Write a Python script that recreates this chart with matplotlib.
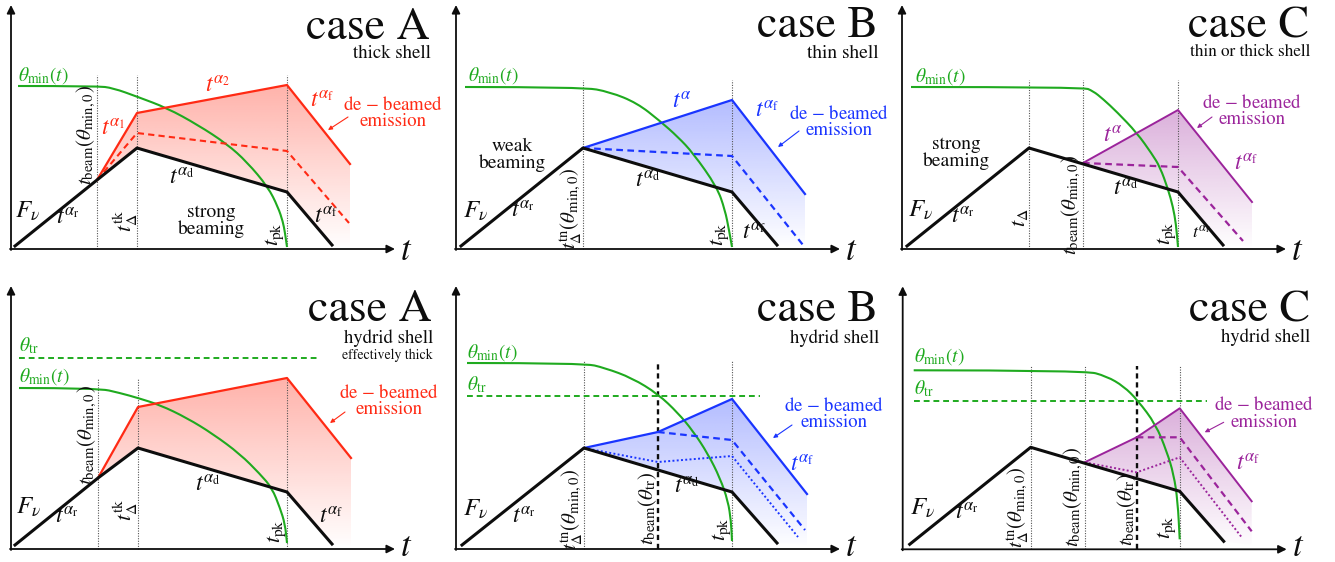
import numpy as np
import matplotlib
matplotlib.use("Agg")
import matplotlib.pyplot as plt
from matplotlib.patches import Polygon, PathPatch
from matplotlib.path import Path
from matplotlib.colors import to_rgb

plt.rcParams["mathtext.fontset"] = "stix"
plt.rcParams["font.family"] = ["STIXGeneral", "DejaVu Serif"]

RED = "#ff2a14"
BLUE = "#1a35ff"
PURPLE = "#9b249b"
GREEN = "#1faa1f"
BLACK = "#0d0d0d"
GREY = "#555555"

# ---------------- data (schematic units) ----------------
# top row, case A (thick shell)
a1_black_t = [4, 86, 126, 276, 321]
a1_black_F = [3, 69, 101, 57, 4]
a1_solid_t = [86, 126, 276, 339]
a1_solid_F = [69, 136, 164, 85]
a1_dash_t = [86, 126, 276, 338]
a1_dash_F = [69, 116, 98, 26]
a1_theta_t = [7, 86, 102, 127, 156, 187, 216, 236, 257, 267, 272, 274, 276]
a1_theta_F = [163, 163, 161, 152, 141, 124, 105, 87, 62, 42, 27, 16, 2]
a1_vlines = [86, 126, 276]

# top row, case B (thin shell)
b1_black_t = [5, 127, 276, 321]
b1_black_F = [3, 101, 57, 4]
b1_solid_t = [127, 276, 349]
b1_solid_F = [101, 149, 55]
b1_dash_t = [127, 276, 347]
b1_dash_F = [101, 93, 4]
b1_theta_t = [9, 127, 154, 181, 204, 222, 237, 261, 269, 273, 276]
b1_theta_F = [162, 162, 157, 146, 128, 112, 96, 62, 39, 19, 2]
b1_vlines = [127, 276]

# top row, case C (thin or thick shell)
c1_black_t = [5, 127, 276, 321]
c1_black_F = [3, 101, 57, 4]
c1_solid_t = [181, 276, 350]
c1_solid_F = [86, 139, 47]
c1_dash_t = [181, 276, 341]
c1_dash_F = [86, 82, 8]
c1_theta_t = [9, 181, 191, 201, 215, 235, 250, 258, 266, 271, 274, 276]
c1_theta_F = [162, 162, 158, 150, 137, 116, 95, 82, 60, 42, 25, 2]
c1_vlines = [127, 181, 276]

# bottom row, case A (hybrid shell, effectively thick)
a2_black_t = [4, 87, 127, 276, 321]
a2_black_F = [4, 71, 101, 57, 5]
a2_solid_t = [87, 127, 276, 340]
a2_solid_F = [71, 142, 171, 91]
a2_theta_t = [8, 87, 109, 127, 149, 176, 202, 229, 249, 261, 269, 274, 276]
a2_theta_F = [161, 161, 156, 151, 144, 131, 115, 95, 75, 61, 41, 25, 6]
a2_tr_t = [8, 309]
a2_tr_F = [191, 191]
a2_vlines = [87, 127, 276]

# bottom row, case B (hybrid shell)
b2_black_t = [6, 128, 276, 321]
b2_black_F = [4, 101, 57, 6]
b2_solid_t = [128, 202, 276, 351]
b2_solid_F = [101, 117, 150, 55]
b2_dash_t = [202, 276, 349]
b2_dash_F = [117, 109, 19]
b2_dot_t = [128, 202, 276, 342]
b2_dot_F = [101, 87, 93, 12]
b2_theta_t = [11, 128, 149, 176, 202, 222, 237, 252, 264, 272, 275, 276]
b2_theta_F = [186, 186, 181, 171, 155, 136, 118, 95, 71, 48, 28, 8]
b2_tr_t = [11, 304]
b2_tr_F = [153, 153]
b2_vlines = [128, 276]
b2_vdash = [202]

# bottom row, case C (hybrid shell)
c2_black_t = [7, 128, 277, 321]
c2_black_F = [5, 102, 58, 8]
c2_solid_t = [182, 234, 277, 349]
c2_solid_F = [87, 112, 141, 48]
c2_dash_t = [234, 277, 349]
c2_dash_F = [112, 112, 18]
c2_dot_t = [182, 234, 277, 339]
c2_dot_F = [87, 77, 92, 12]
c2_theta_t = [11, 182, 204, 221, 235, 253, 264, 271, 275, 277]
c2_theta_F = [179, 179, 173, 163, 149, 125, 98, 75, 48, 10]
c2_tr_t = [11, 304]
c2_tr_F = [148, 148]
c2_vlines = [128, 182, 277]
c2_vdash = [234]

# ---------------- figure ----------------
W, H = 1335, 562
fig = plt.figure(figsize=(W / 100, H / 100), dpi=100)
PW, PH = 445, 281

MATH_FS = 17


def make_ax(r, c, ox, oy):
    ax = fig.add_axes([c * PW / W, 1 - (r + 1) * PH / H, PW / W, PH / H])
    ax.set_axis_off()
    ax._lims = ((-ox, PW - ox), (-(PH - oy), oy))
    return ax


def finish(ax):
    ax.set_xlim(*ax._lims[0])
    ax.set_ylim(*ax._lims[1])


def axes_arrows(ax, ytop, t_y, xend=384):
    kw = dict(arrowstyle="-|>", color=BLACK, lw=1.3, mutation_scale=12,
              shrinkA=0, shrinkB=0)
    ax.annotate("", xy=(0, ytop), xytext=(0, -1), arrowprops=kw, zorder=6)
    ax.annotate("", xy=(xend, 0), xytext=(-1, 0), arrowprops=kw, zorder=6)
    ax.text(389, t_y, r"$t$", fontsize=25, ha="left", va="center", color=BLACK)


def smooth_curve(ax, ts, Fs, color, lw=1.5):
    """Quadratic-Bezier path through the read points (midpoint scheme)."""
    P = list(zip(ts, Fs))
    verts = [P[0]]
    codes = [Path.MOVETO]
    for i in range(1, len(P) - 1):
        mid = ((P[i][0] + P[i + 1][0]) / 2, (P[i][1] + P[i + 1][1]) / 2)
        verts += [P[i], mid]
        codes += [Path.CURVE3, Path.CURVE3]
    verts.append(P[-1])
    codes.append(Path.LINETO)
    ax.add_patch(PathPatch(Path(verts, codes), facecolor="none",
                           edgecolor=color, lw=lw, zorder=3))


def vlines(ax, xs, top):
    for x in xs:
        ax.plot([x, x], [0, top], color=GREY, lw=0.8, ls=(0, (1, 1.3)), zorder=2)


def vdash(ax, xs, top):
    for x in xs:
        ax.plot([x, x], [0, top], color=BLACK, lw=1.7, ls=(0, (2.2, 1.6)), zorder=2)


def gradient_fill(ax, solid_t, solid_F, black_t, black_F, color, amax, base=2):
    pts = list(zip(solid_t, solid_F))
    pts.append((solid_t[-1], base))
    bl = [(t, F) for t, F in zip(black_t, black_F) if t > solid_t[0]]
    pts += bl[::-1]
    poly = Polygon(pts, closed=True, facecolor="none", edgecolor="none")
    ax.add_patch(poly)
    ftop = max(solid_F)
    n = 256
    img = np.zeros((n, 1, 4))
    img[..., :3] = to_rgb(color)
    img[:, 0, 3] = np.linspace(0, amax, n)
    xs = [p[0] for p in pts]
    im = ax.imshow(img, extent=[min(xs), max(xs), 0, ftop], origin="lower",
                   aspect="auto", interpolation="bilinear", zorder=1)
    im.set_clip_path(poly)


def lbl(ax, x, y, s, fs=MATH_FS, color=BLACK, rot=0, ha="center", va="center"):
    ax.text(x, y, s, fontsize=fs, color=color, rotation=rot, ha=ha, va=va)


def title(ax, x, y, s, sub, sub_fs, y2, sub2=None, y3=None):
    ax.text(x, y, s, fontsize=33, ha="right", va="baseline", color=BLACK)
    ax.text(x + 1, y2, sub, fontsize=sub_fs, ha="right", va="baseline", color=BLACK)
    if sub2:
        ax.text(x + 1, y3, sub2, fontsize=10, ha="right", va="baseline", color=BLACK)


def debeam(ax, x, y, color, tail, head):
    ax.text(x, y, "de $-$ beamed\nemission", fontsize=13.5, color=color,
            ha="center", va="center", linespacing=0.95, multialignment="center")
    ax.annotate("", xy=head, xytext=tail,
                arrowprops=dict(arrowstyle="-|>", color=color, lw=0.8,
                                mutation_scale=6, shrinkA=0, shrinkB=0))


def words(ax, x, y, s):
    ax.text(x, y, s, fontsize=14, ha="center", va="center",
            linespacing=0.95, color=BLACK)


T_BEAM0 = r"$t_{\rm beam}(\theta_{{\rm min},0})$"
T_BEAMTR = r"$t_{\rm beam}(\theta_{\rm tr})$"
T_TN = r"$t_\Delta^{\rm tn}(\theta_{{\rm min},0})$"
T_TK = r"$t_\Delta^{\rm tk}$"
T_PK = r"$t_{\rm pk}$"
T_AR = r"$t^{\alpha_{\rm r}}$"
T_AD = r"$t^{\alpha_{\rm d}}$"
T_AF = r"$t^{\alpha_{\rm f}}$"
F_NU = r"$F_\nu$"
TH_MIN = r"$\theta_{\rm min}(t)$"
TH_TR = r"$\theta_{\rm tr}$"
ROT_FS = 15
TH_FS = 14
FNU_FS = 18

# ======== panel top A ========
ax = make_ax(0, 0, 11, 249)
gradient_fill(ax, a1_solid_t, a1_solid_F, a1_black_t, a1_black_F, RED, 0.36)
vlines(ax, a1_vlines, 174)
smooth_curve(ax, a1_theta_t, a1_theta_F, GREEN)
ax.plot(a1_dash_t, a1_dash_F, color=RED, lw=1.5, ls=(0, (3, 2)), zorder=4)
ax.plot(a1_solid_t, a1_solid_F, color=RED, lw=1.6, zorder=4)
ax.plot(a1_black_t, a1_black_F, color=BLACK, lw=2.2, zorder=5)
axes_arrows(ax, 244, -3)
lbl(ax, 7, 173, TH_MIN, TH_FS, GREEN, ha="left")
lbl(ax, 207, 162, r"$t^{\alpha_2}$", MATH_FS, RED)
lbl(ax, 311, 147, T_AF, MATH_FS, RED)
lbl(ax, 102, 119, r"$t^{\alpha_1}$", MATH_FS, RED)
debeam(ax, 382, 136, RED, (337, 132), (317, 119))
lbl(ax, 75, 114, T_BEAM0, ROT_FS, rot=90)
lbl(ax, 115, 28, T_TK, ROT_FS + 1, rot=90)
words(ax, 200, 28, "strong\nbeaming")
lbl(ax, 171, 70, T_AD)
lbl(ax, 17, 37, F_NU, FNU_FS)
lbl(ax, 57, 30, T_AR)
lbl(ax, 264, 15, T_PK, ROT_FS + 1, rot=90)
lbl(ax, 315, 31, T_AF)
title(ax, 419, 210, "case A", "thick shell", 13.5, 191)
finish(ax)

# ======== panel top B ========
ax = make_ax(0, 1, 11, 249)
gradient_fill(ax, b1_solid_t, b1_solid_F, b1_black_t, b1_black_F, BLUE, 0.33)
vlines(ax, b1_vlines, 169)
smooth_curve(ax, b1_theta_t, b1_theta_F, GREEN)
ax.plot(b1_dash_t, b1_dash_F, color=BLUE, lw=1.6, ls=(0, (3, 2)), zorder=4)
ax.plot(b1_solid_t, b1_solid_F, color=BLUE, lw=1.6, zorder=4)
ax.plot(b1_black_t, b1_black_F, color=BLACK, lw=2.2, zorder=5)
axes_arrows(ax, 244, -3)
lbl(ax, 12, 173, TH_MIN, TH_FS, GREEN, ha="left")
lbl(ax, 226, 146, r"$t^{\alpha}$", MATH_FS, BLUE)
lbl(ax, 311, 137, T_AF, MATH_FS, BLUE)
debeam(ax, 383, 127, BLUE, (343, 118), (322, 102))
words(ax, 56, 94, "weak\nbeaming")
lbl(ax, 192, 67, T_AD)
lbl(ax, 20, 37, F_NU, FNU_FS)
lbl(ax, 67, 37, T_AR)
lbl(ax, 115, 41, T_TN, ROT_FS, rot=90)
lbl(ax, 264, 15, T_PK, ROT_FS + 1, rot=90)
lbl(ax, 298, 15, T_AF)
title(ax, 422, 212, "case B", "thin shell", 14, 191)
finish(ax)

# ======== panel top C ========
ax = make_ax(0, 2, 12, 249)
gradient_fill(ax, c1_solid_t, c1_solid_F, c1_black_t, c1_black_F, PURPLE, 0.36)
vlines(ax, c1_vlines, 169)
smooth_curve(ax, c1_theta_t, c1_theta_F, GREEN)
ax.plot(c1_dash_t, c1_dash_F, color=PURPLE, lw=1.6, ls=(0, (3, 2)), zorder=4)
ax.plot(c1_solid_t, c1_solid_F, color=PURPLE, lw=1.4, zorder=4)
ax.plot(c1_black_t, c1_black_F, color=BLACK, lw=2.2, zorder=5)
axes_arrows(ax, 244, -3)
lbl(ax, 13, 172, TH_MIN, TH_FS, GREEN, ha="left")
lbl(ax, 211, 112, r"$t^{\alpha}$", MATH_FS, PURPLE)
debeam(ax, 350, 138, PURPLE, (310, 132), (295, 121))
lbl(ax, 344, 84, T_AF, MATH_FS, PURPLE)
words(ax, 54, 96, "strong\nbeaming")
lbl(ax, 224, 59, T_AD)
lbl(ax, 19, 38, F_NU, FNU_FS)
lbl(ax, 61, 31, T_AR)
lbl(ax, 118, 31, r"$t_\Delta$", ROT_FS + 1, rot=90)
lbl(ax, 169, 44, T_BEAM0, ROT_FS, rot=90)
lbl(ax, 265, 16, T_PK, ROT_FS + 1, rot=90)
lbl(ax, 299, 16, T_AF, 13)
title(ax, 407, 212, "case C", "thin or thick shell", 12.3, 193)
finish(ax)

# ======== panel bottom A ========
ax = make_ax(1, 0, 11, 268)
gradient_fill(ax, a2_solid_t, a2_solid_F, a2_black_t, a2_black_F, RED, 0.36, base=4)
vlines(ax, a2_vlines, 171)
ax.plot(a2_tr_t, a2_tr_F, color=GREEN, lw=1.4, ls=(0, (3, 2)), zorder=3)
smooth_curve(ax, a2_theta_t, a2_theta_F, GREEN)
ax.plot(a2_solid_t, a2_solid_F, color=RED, lw=1.6, zorder=4)
ax.plot(a2_black_t, a2_black_F, color=BLACK, lw=2.2, zorder=5)
axes_arrows(ax, 263, 1)
lbl(ax, 8, 203, TH_TR, TH_FS, GREEN, ha="left")
lbl(ax, 8, 172, TH_MIN, TH_FS, GREEN, ha="left")
debeam(ax, 378, 148, RED, (334, 137), (319, 126))
lbl(ax, 76, 114, T_BEAM0, ROT_FS, rot=90)
lbl(ax, 115, 39, T_TK, ROT_FS + 1, rot=90)
lbl(ax, 197, 63, T_AD)
lbl(ax, 18, 41, F_NU, FNU_FS)
lbl(ax, 56, 31, T_AR)
lbl(ax, 266, 18, T_PK, ROT_FS + 1, rot=90)
lbl(ax, 320, 31, T_AF)
title(ax, 421, 228, "case A", "hydrid shell", 13.5, 206, "effectively thick", 190)
finish(ax)

# ======== panel bottom B ========
ax = make_ax(1, 1, 11, 268)
gradient_fill(ax, b2_solid_t, b2_solid_F, b2_black_t, b2_black_F, BLUE, 0.33, base=4)
vlines(ax, b2_vlines, 188)
vdash(ax, b2_vdash, 188)
ax.plot(b2_tr_t, b2_tr_F, color=GREEN, lw=1.4, ls=(0, (3, 2)), zorder=3)
smooth_curve(ax, b2_theta_t, b2_theta_F, GREEN)
ax.plot(b2_dot_t, b2_dot_F, color=BLUE, lw=1.4, ls=(0, (1, 1.2)), zorder=4)
ax.plot(b2_dash_t, b2_dash_F, color=BLUE, lw=1.6, ls=(0, (3, 2)), zorder=4)
ax.plot(b2_solid_t, b2_solid_F, color=BLUE, lw=1.6, zorder=4)
ax.plot(b2_black_t, b2_black_F, color=BLACK, lw=2.2, zorder=5)
axes_arrows(ax, 263, 1)
lbl(ax, 11, 196, TH_MIN, TH_FS, GREEN, ha="left")
lbl(ax, 11, 164, TH_TR, TH_FS, GREEN, ha="left")
debeam(ax, 378, 135, BLUE, (336, 124), (317, 111))
lbl(ax, 346, 83, T_AF, MATH_FS, BLUE)
lbl(ax, 116, 40, T_TN, ROT_FS, rot=90)
lbl(ax, 192, 41, T_BEAMTR, ROT_FS, rot=90)
lbl(ax, 231, 61, T_AD)
lbl(ax, 20, 39, F_NU, FNU_FS)
lbl(ax, 68, 31, T_AR)
lbl(ax, 266, 20, T_PK, ROT_FS + 1, rot=90)
title(ax, 422, 228, "case B", "hydrid shell", 13.5, 206)
finish(ax)

# ======== panel bottom C ========
ax = make_ax(1, 2, 12.7, 268.3)
gradient_fill(ax, c2_solid_t, c2_solid_F, c2_black_t, c2_black_F, PURPLE, 0.36, base=4)
vlines(ax, c2_vlines, 183)
vdash(ax, c2_vdash, 183)
ax.plot(c2_tr_t, c2_tr_F, color=GREEN, lw=1.4, ls=(0, (3, 2)), zorder=3)
smooth_curve(ax, c2_theta_t, c2_theta_F, GREEN)
ax.plot(c2_dot_t, c2_dot_F, color=PURPLE, lw=1.4, ls=(0, (1, 1.2)), zorder=4)
ax.plot(c2_dash_t, c2_dash_F, color=PURPLE, lw=1.6, ls=(0, (3, 2)), zorder=4)
ax.plot(c2_solid_t, c2_solid_F, color=PURPLE, lw=1.4, zorder=4)
ax.plot(c2_black_t, c2_black_F, color=BLACK, lw=2.2, zorder=5)
axes_arrows(ax, 263, 1)
lbl(ax, 11, 193, TH_MIN, TH_FS, GREEN, ha="left")
lbl(ax, 11, 161, TH_TR, TH_FS, GREEN, ha="left")
debeam(ax, 361, 136, PURPLE, (321, 127), (302, 117))
lbl(ax, 346, 84, T_AF, MATH_FS, PURPLE)
lbl(ax, 115, 42, T_TN, ROT_FS, rot=90)
lbl(ax, 171, 52, T_BEAM0, ROT_FS, rot=90)
lbl(ax, 224, 40, T_BEAMTR, ROT_FS, rot=90)
lbl(ax, 264, 22, T_PK, ROT_FS + 1, rot=90)
lbl(ax, 20, 41, F_NU, FNU_FS)
lbl(ax, 64, 35, T_AR)
title(ax, 407, 228, "case C", "hydrid shell", 13.5, 207)
finish(ax)

fig.savefig("out.png", dpi=100)
